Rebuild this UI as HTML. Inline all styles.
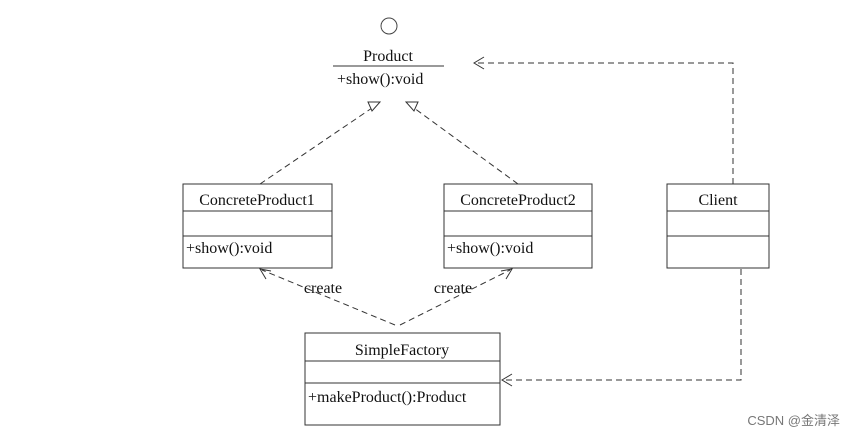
<!DOCTYPE html>
<html><head><style>body{margin:0;background:#fff}</style></head><body>
<svg width="855" height="437" xmlns="http://www.w3.org/2000/svg" font-family="Liberation Serif, serif" font-size="16" fill="none" stroke="#333">
<circle cx="389" cy="26" r="8" stroke="#444"/>
<text x="388" y="61" text-anchor="middle" fill="#111" stroke="none">Product</text>
<line x1="333" y1="66" x2="444" y2="66"/>
<text x="337" y="84" fill="#111" stroke="none">+show():void</text>
<g stroke-dasharray="6,4">
<line x1="260" y1="184" x2="372" y2="108"/>
<line x1="518" y1="184" x2="414" y2="108"/>
<polyline points="733,184 733,63 476,63"/>
<polyline points="741,269 741,380 504,380"/>
<line x1="395" y1="325" x2="262" y2="270"/>
<line x1="400" y1="325" x2="510" y2="270"/>
</g>
<polygon points="368,102 380,102 372,111" fill="#fff"/>
<polygon points="406,102 418,102 414,111" fill="#fff"/>
<polyline points="484,57 474,63 484,69"/>
<polyline points="512,374 502,380 512,386"/>
<g fill="#fff">
<rect x="183" y="184" width="149" height="84"/>
<rect x="444" y="184" width="148" height="84"/>
<rect x="667" y="184" width="102" height="84"/>
<rect x="305" y="333" width="195" height="92"/>
</g>
<polyline points="271,271 260,269 266,279"/>
<polyline points="501,271 512,269 506,279"/>
<line x1="183" y1="211" x2="332" y2="211"/><line x1="183" y1="236" x2="332" y2="236"/>
<line x1="444" y1="211" x2="592" y2="211"/><line x1="444" y1="236" x2="592" y2="236"/>
<line x1="667" y1="211" x2="769" y2="211"/><line x1="667" y1="236" x2="769" y2="236"/>
<line x1="305" y1="361" x2="500" y2="361"/><line x1="305" y1="383" x2="500" y2="383"/>
<g fill="#111" stroke="none">
<text x="257" y="205" text-anchor="middle">ConcreteProduct1</text>
<text x="186" y="253">+show():void</text>
<text x="518" y="205" text-anchor="middle">ConcreteProduct2</text>
<text x="447" y="253">+show():void</text>
<text x="718" y="205" text-anchor="middle">Client</text>
<text x="402" y="355" text-anchor="middle">SimpleFactory</text>
<text x="308" y="402">+makeProduct():Product</text>
<text x="323" y="293" text-anchor="middle">create</text>
<text x="453" y="293" text-anchor="middle">create</text>
<text x="840" y="425" text-anchor="end" font-family="Liberation Sans, Noto Sans CJK SC, sans-serif" font-size="13" fill="#777">CSDN @金清泽</text>
</g>
</svg>
</body></html>
